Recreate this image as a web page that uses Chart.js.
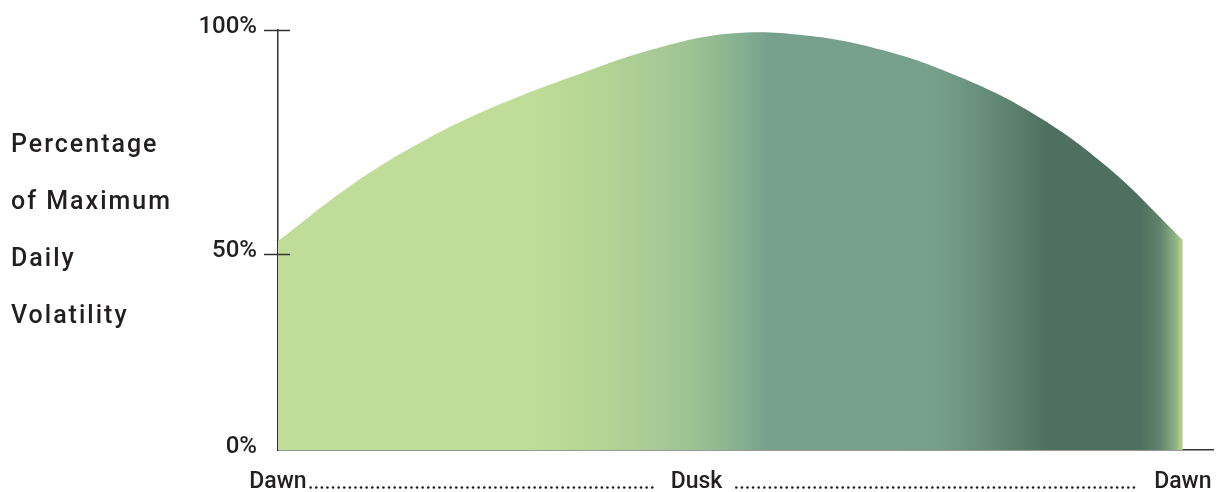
<!DOCTYPE html>
<html>
<head>
<meta charset="utf-8">
<script src="https://cdn.jsdelivr.net/npm/chart.js@4.4.1/dist/chart.umd.min.js"></script>
<style>
  html, body { margin: 0; padding: 0; background: #ffffff; }
  #wrap { width: 1217px; height: 492px; position: relative; }
</style>
</head>
<body>
<div id="wrap"><canvas id="chart"></canvas></div>
<script>
// Hours since dawn and the share of the day's maximum volatility at that hour
const HOURS      = [0, 2, 4, 6, 8, 10, 12, 14, 16, 18, 20, 22, 24];
const VOLATILITY = [52.9, 65.7, 75.9, 83.8, 90.2, 95.8, 99.2, 98.8, 95.6, 89.8, 81.5, 69.4, 53.1];

const X_TICKS = [0, 11.1, 24];
const X_TICK_LABELS = ['Dawn', 'Dusk', 'Dawn'];
const Y_TICKS = [0, 50, 100];
const Y_TICK_LABELS = ['0%', '50%', '100%'];
const Y_TITLE_LINES = ['Percentage', 'of Maximum', 'Daily', 'Volatility'];

// Colour bands across the day (hour, colour)
const GRADIENT_HOURS  = [0, 6.7, 8.5, 9.9, 11.2, 12.2, 13.0, 17.5, 18.9, 20.4, 22.9, 23.4, 23.8, 24];
const GRADIENT_COLORS = ['#bfdc98', '#bfdc98', '#b4d594', '#a9cb95', '#99c093', '#86b190', '#77a18c',
                         '#76a08c', '#658a78', '#4f7060', '#4f7060', '#62846f', '#8fb182', '#b9d990'];

const INK = '#231f20';
const AXIS = '#333333';

// Value axis whose lower half (0-50) takes a smaller share of the height than the upper half.
const SPLIT_VALUE = 50;
const LOWER_SHARE = 196 / 420;
class SplitLinearScale extends Chart.LinearScale {
  getPixelForValue(value) {
    if (value === null || value === undefined || isNaN(value)) return NaN;
    let t;
    if (value <= SPLIT_VALUE) {
      t = (value - this.min) / (SPLIT_VALUE - this.min) * LOWER_SHARE;
    } else {
      t = LOWER_SHARE + (value - SPLIT_VALUE) / (this.max - SPLIT_VALUE) * (1 - LOWER_SHARE);
    }
    return this.getPixelForDecimal(t);
  }
  getValueForPixel(pixel) {
    const t = this.getDecimalForPixel(pixel);
    if (t <= LOWER_SHARE) return this.min + t / LOWER_SHARE * (SPLIT_VALUE - this.min);
    return SPLIT_VALUE + (t - LOWER_SHARE) / (1 - LOWER_SHARE) * (this.max - SPLIT_VALUE);
  }
}
SplitLinearScale.id = 'splitLinear';
SplitLinearScale.defaults = Chart.LinearScale.defaults;
Chart.register(SplitLinearScale);

function dayGradient(context) {
  const chart = context.chart;
  const xs = chart.scales.x;
  if (!chart.chartArea || !xs) return GRADIENT_COLORS[0];
  const x0 = xs.getPixelForValue(HOURS[0]);
  const x1 = xs.getPixelForValue(HOURS[HOURS.length - 1]);
  const g = chart.ctx.createLinearGradient(x0, 0, x1, 0);
  const span = HOURS[HOURS.length - 1] - HOURS[0];
  GRADIENT_HOURS.forEach((h, i) => g.addColorStop((h - HOURS[0]) / span, GRADIENT_COLORS[i]));
  return g;
}

// Small tick marks that cross the value axis, the stacked axis title and dotted leaders between day labels
const decorations = {
  id: 'decorations',
  afterDraw(chart) {
    const { ctx, chartArea } = chart;
    const ys = chart.scales.y;
    const xs = chart.scales.x;
    ctx.save();

    ctx.strokeStyle = AXIS;
    ctx.lineWidth = 1.5;
    Y_TICKS.forEach(v => {
      if (v === 0) return;
      const y = Math.round(ys.getPixelForValue(v)) + 0.5;
      ctx.beginPath();
      ctx.moveTo(chartArea.left - 14, y);
      ctx.lineTo(chartArea.left + 12, y);
      ctx.stroke();
    });

    ctx.fillStyle = INK;
    ctx.font = '500 25px Roboto';
    ctx.letterSpacing = '2px';
    ctx.textAlign = 'left';
    ctx.textBaseline = 'alphabetic';
    Y_TITLE_LINES.forEach((line, i) => ctx.fillText(line, 11, 152 + i * 57));
    ctx.letterSpacing = '0px';

    ctx.font = xs.options.ticks.font.weight + ' ' + xs.options.ticks.font.size + 'px ' + xs.options.ticks.font.family;
    const edges = X_TICKS.map((v, i) => {
      const c = xs.getPixelForValue(v);
      const w = ctx.measureText(X_TICK_LABELS[i]).width;
      return { l: c - w / 2, r: c + w / 2 };
    });
    const dotY = chartArea.bottom + 37.5;
    const gapsBefore = [0, 15, 15];
    const gapsAfter = [3, 13, 0];
    for (let i = 0; i < edges.length - 1; i++) {
      const start = edges[i].r + gapsAfter[i];
      const end = edges[i + 1].l - gapsBefore[i + 1];
      for (let x = start + 1; x <= end; x += 5.6) {
        ctx.beginPath();
        ctx.arc(x, dotY, 1.3, 0, Math.PI * 2);
        ctx.fill();
      }
    }
    ctx.restore();
  }
};

new Chart(document.getElementById('chart'), {
  type: 'line',
  data: {
    datasets: [{
      data: HOURS.map((h, i) => ({ x: h, y: VOLATILITY[i] })),
      fill: 'origin',
      backgroundColor: dayGradient,
      borderWidth: 0,
      borderColor: 'rgba(0,0,0,0)',
      pointRadius: 0,
      tension: 0.4
    }]
  },
  options: {
    responsive: true,
    maintainAspectRatio: false,
    animation: false,
    layout: { padding: { top: 30, right: 4, left: 0, bottom: 0 } },
    plugins: { legend: { display: false }, tooltip: { enabled: false } },
    scales: {
      x: {
        type: 'linear',
        min: 0,
        max: 24.8,
        afterBuildTicks(scale) { scale.ticks = X_TICKS.map(v => ({ value: v })); },
        afterFit(scale) { scale.height = 42; scale.paddingLeft = 0; scale.paddingRight = 0; },
        grid: { display: false, drawTicks: false },
        border: { display: true, color: AXIS, width: 1.5 },
        ticks: {
          autoSkip: false,
          maxRotation: 0,
          padding: 18,
          color: INK,
          font: { family: 'Roboto', size: 23, weight: '500' },
          callback(value) { const i = X_TICKS.indexOf(value); return i >= 0 ? X_TICK_LABELS[i] : ''; }
        }
      },
      y: {
        type: 'splitLinear',
        min: 0,
        max: 100,
        afterBuildTicks(scale) { scale.ticks = Y_TICKS.map(v => ({ value: v })); },
        afterFit(scale) { scale.width = 278; scale.paddingTop = 0; scale.paddingBottom = 0; },
        grid: { display: false, drawTicks: false },
        border: { display: true, color: AXIS, width: 1.5 },
        ticks: {
          autoSkip: false,
          padding: 21,
          labelOffset: -3,
          color: INK,
          font: { family: 'Roboto', size: 24, weight: '500' },
          callback(value) { const i = Y_TICKS.indexOf(value); return i >= 0 ? Y_TICK_LABELS[i] : ''; }
        }
      }
    }
  },
  plugins: [decorations]
});
</script>
</body>
</html>
